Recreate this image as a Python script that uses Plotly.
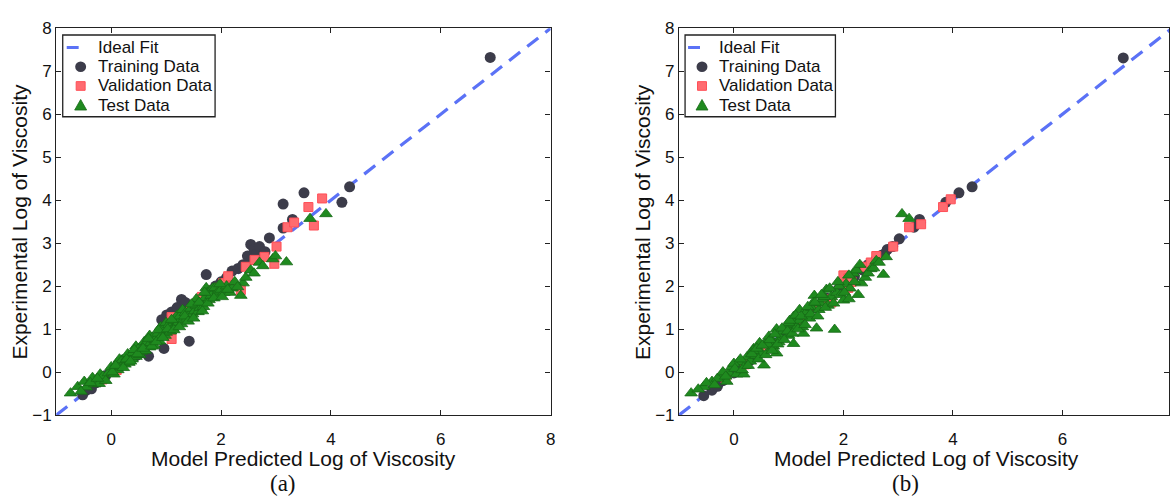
import plotly.graph_objects as go

# ---------------- panel (a) ----------------
a_train_x = [-0.52, -0.45, -0.36, -0.28, -0.10, 0.05, 0.15, 0.22, 0.35, 0.45, 0.55, 0.62, 0.68, 0.75,
             0.85, 0.92, 0.96, 1.00, 1.01, 1.10, 1.10, 1.20, 1.20, 1.28, 1.35, 1.42, 1.50, 1.60, 1.73,
             1.80, 1.90, 2.00, 2.10, 2.20, 2.31, 2.40, 2.48, 2.54, 2.55, 2.60, 2.65, 2.70, 2.70, 2.80,
             2.88, 3.13, 3.13, 3.30, 3.51, 4.20, 4.34, 6.90]
a_train_y = [-0.53, -0.42, -0.39, -0.25, -0.08, 0.02, 0.12, 0.28, 0.30, 0.38, 0.45, 0.58, 0.37, 0.66,
             0.80, 1.22, 0.55, 0.90, 1.33, 1.05, 1.40, 1.18, 1.50, 1.69, 1.62, 0.72, 1.55, 1.62, 2.27,
             1.85, 2.00, 2.10, 2.20, 2.35, 2.41, 2.50, 2.70, 2.97, 2.62, 2.85, 2.75, 2.92, 2.65, 2.80,
             3.12, 3.35, 3.91, 3.55, 4.17, 3.95, 4.31, 7.32]

a_val_x = [-0.16, 0.10, 0.50, 0.75, 1.10, 1.10, 1.30, 1.46, 1.59, 1.65, 1.75, 1.85, 1.98, 2.04,
           2.13, 2.20, 2.36, 2.45, 2.61, 2.79, 2.97, 3.01, 3.21, 3.33, 3.59, 3.69, 3.84]
a_val_y = [-0.17, 0.05, 0.48, 0.72, 1.28, 0.77, 1.25, 1.45, 1.51, 1.75, 1.70, 1.90, 1.96, 2.07,
           2.23, 2.00, 1.91, 2.45, 2.61, 2.68, 2.52, 2.92, 3.37, 3.48, 3.84, 3.41, 4.04]

a_test_x = [-0.74, -0.61, -0.49, -0.45, -0.34, -0.30, -0.22, -0.20, -0.15, -0.10, -0.05, 0.00, 0.05,
            0.10, 0.12, 0.15, 0.18, 0.20, 0.25, 0.30, 0.30, 0.32, 0.38, 0.40, 0.45, 0.45, 0.50, 0.52,
            0.55, 0.60, 0.60, 0.62, 0.65, 0.70, 0.70, 0.72, 0.75, 0.78, 0.80, 0.85, 0.88, 0.90, 0.90,
            0.95, 0.98, 1.00, 1.00, 1.05, 1.08, 1.12, 1.15, 1.18, 1.20, 1.22, 1.25, 1.28, 1.30, 1.32,
            1.35, 1.38, 1.42, 1.45, 1.48, 1.52, 1.55, 1.55, 1.58, 1.62, 1.65, 1.68, 1.71, 1.73, 1.75,
            1.78, 1.80, 1.82, 1.85, 1.89, 1.92, 1.95, 2.00, 2.05, 2.10, 2.16, 2.20, 2.36, 2.40, 2.45,
            2.54, 2.60, 2.70, 2.76, 2.94, 2.99, 3.19, 3.62, 3.91,
            -0.55, -0.38, -0.25, 0.02, 0.08, 0.22, 0.28, 0.35, 0.42, 0.48, 0.58, 0.68, 0.74, 0.82,
            0.86, 0.94, 1.03, 1.10, 1.14, 1.24, 1.34, 1.40, 1.46, 1.50, 1.60, 1.66, 1.70, 1.76, 1.87,
            1.98, 2.02, 2.12, 2.25, 2.30]
a_test_y = [-0.49, -0.34, -0.22, -0.35, -0.13, -0.28, -0.27, -0.05, -0.10, -0.20, -0.02, 0.12, -0.05,
            0.20, 0.05, 0.30, 0.12, 0.28, 0.18, 0.35, 0.42, 0.22, 0.30, 0.45, 0.36, 0.60, 0.55, 0.40,
            0.48, 0.62, 0.70, 0.50, 0.70, 0.58, 0.85, 0.68, 0.80, 0.62, 0.75, 0.90, 0.72, 0.82, 1.05,
            1.00, 0.85, 0.92, 1.15, 1.10, 0.95, 1.02, 1.20, 1.08, 1.32, 1.15, 1.30, 1.12, 1.45, 1.22,
            1.38, 1.25, 1.32, 1.48, 1.35, 1.42, 1.55, 1.70, 1.40, 1.50, 1.62, 1.52, 1.73, 1.96, 1.85,
            1.68, 1.90, 1.78, 1.95, 1.96, 1.80, 1.88, 1.92, 1.85, 2.00, 1.85, 1.95, 1.78, 2.07, 2.20,
            2.37, 2.30, 2.55, 2.47, 2.63, 2.70, 2.56, 3.57, 3.68,
            -0.45, -0.25, -0.15, 0.00, 0.15, 0.10, 0.30, 0.25, 0.52, 0.42, 0.55, 0.78, 0.60, 0.70,
            0.98, 0.80, 1.00, 1.22, 0.98, 1.05, 1.30, 1.18, 1.58, 1.25, 1.62, 1.42, 1.85, 1.60, 1.72,
            2.05, 1.75, 1.92, 2.10, 1.98]

# ---------------- panel (b) ----------------
b_train_x = [-0.55, -0.40, -0.30, -0.20, 0.00, 0.10, 0.30, 0.50, 0.70, 0.90, 1.10, 1.30, 1.50, 1.70,
             1.90, 2.00, 2.20, 2.35, 2.45, 2.50, 2.60, 2.70, 2.75, 2.80, 2.90, 3.02, 3.29, 3.39, 3.87,
             4.11, 4.35, 7.11]
b_train_y = [-0.55, -0.42, -0.33, -0.20, -0.02, 0.08, 0.28, 0.47, 0.68, 0.90, 1.08, 1.30, 1.50, 1.72,
             1.92, 2.05, 2.22, 2.38, 2.50, 2.50, 2.62, 2.72, 2.75, 2.85, 2.92, 3.10, 3.37, 3.55, 3.95,
             4.17, 4.31, 7.31]

b_val_x = [-0.15, 0.20, 0.60, 1.20, 1.50, 1.69, 1.78, 1.96, 2.00, 2.09, 2.09, 2.15, 2.40, 2.50,
           2.60, 2.91, 3.20, 3.42, 3.82, 3.96]
b_val_y = [-0.15, 0.18, 0.58, 1.22, 1.55, 1.69, 1.62, 2.07, 2.25, 2.18, 1.96, 2.10, 2.45, 2.55,
           2.70, 2.92, 3.37, 3.44, 3.84, 4.02]

b_test_x = [-0.78, -0.55, -0.40, -0.25, -0.13, -0.09, -0.04, 0.05, 0.09, 0.18, 0.20, 0.24, 0.30, 0.36,
            0.40, 0.47, 0.50, 0.55, 0.60, 0.64, 0.68, 0.72, 0.78, 0.78, 0.85, 0.90, 0.96, 1.00, 1.05,
            1.09, 1.09, 1.11, 1.15, 1.20, 1.20, 1.27, 1.30, 1.33, 1.38, 1.42, 1.47, 1.51, 1.55, 1.58,
            1.62, 1.69, 1.72, 1.78, 1.84, 1.88, 1.95, 2.00, 2.05, 2.12, 2.18, 2.24, 2.27, 2.33, 2.40,
            2.50, 2.60, 2.73, 2.78, 3.07, 3.20, -0.65, -0.30, 0.00, 0.35, 0.62, 0.82, 1.00, 1.25, 1.45,
            1.65, 1.92, 2.20,
            -0.50, -0.35, -0.20, -0.15, 0.02, 0.12, 0.15, 0.26, 0.33, 0.42, 0.45, 0.52, 0.58, 0.66,
            0.70, 0.75, 0.80, 0.88, 0.92, 0.98, 1.02, 1.07, 1.13, 1.17, 1.23, 1.30, 1.35, 1.40, 1.48,
            1.53, 1.60, 1.67, 1.75, 1.82, 1.90, 2.02, 2.10, 2.30, 2.45, 2.55, 2.65, 2.10]
b_test_y = [-0.49, -0.34, -0.22, -0.13, -0.22, -0.02, 0.12, -0.05, 0.24, -0.05, 0.15, 0.35, 0.25, 0.54,
            0.38, 0.68, 0.45, 0.16, 0.72, 0.83, 0.55, 0.60, 1.00, 0.44, 0.80, 0.95, 1.06, 0.85, 1.10,
            1.29, 0.66, 1.13, 1.05, 1.45, 1.20, 0.90, 1.30, 1.40, 1.25, 1.50, 1.78, 1.02, 1.45, 1.60,
            1.70, 1.92, 1.55, 1.75, 0.99, 1.85, 1.80, 1.67, 2.05, 1.95, 2.30, 2.37, 1.80, 2.07, 2.20,
            2.40, 2.59, 2.27, 2.68, 3.68, 3.57, -0.40, -0.15, 0.20, 0.50, 0.65, 0.70, 1.15, 1.05, 1.62,
            1.75, 2.00, 2.10,
            -0.25, -0.30, 0.00, -0.10, 0.08, 0.30, 0.05, 0.15, 0.42, 0.55, 0.30, 0.62, 0.40, 0.75,
            0.50, 0.88, 0.65, 1.02, 0.75, 0.95, 1.20, 0.90, 1.32, 1.00, 1.30, 1.10, 1.52, 1.35, 1.62,
            1.30, 1.80, 1.50, 1.95, 1.60, 2.10, 1.85, 2.25, 2.50, 2.30, 2.42, 2.55, 1.70]

fit_line = [-1, 8]
legend_labels = ["Ideal Fit", "Training Data", "Validation Data", "Test Data"]

FONT = "Liberation Sans, Arial, sans-serif"
SERIF = "Liberation Serif, Times New Roman, serif"
BLUE = "#5b72f6"
TRAIN = "#3c3c4a"
VAL_FILL = "#ff6b70"
VAL_EDGE = "#ff4f57"
TEST_FILL = "#1f8a1f"
TEST_EDGE = "#176917"
INK = "#111"

W, H = 1174, 503
top_px, bot_px = 20, 422
ydom = [(H - bot_px) / H, (H - top_px) / H]


def px(x):
    return x / W


def py(y):
    return 1 - y / H


fig = go.Figure()

panels = [
    ("x", "y", a_train_x, a_train_y, a_val_x, a_val_y, a_test_x, a_test_y),
    ("x2", "y2", b_train_x, b_train_y, b_val_x, b_val_y, b_test_x, b_test_y),
]

for xa, ya, trx, tr_y, vx, vy, tx, ty in panels:
    fig.add_trace(go.Scatter(x=fit_line, y=fit_line, mode="lines", name=legend_labels[0],
                             xaxis=xa, yaxis=ya, showlegend=False, hoverinfo="skip",
                             line=dict(color=BLUE, width=3.2, dash="14px,9px")))
    fig.add_trace(go.Scatter(x=trx, y=tr_y, mode="markers", name=legend_labels[1],
                             xaxis=xa, yaxis=ya, showlegend=False,
                             marker=dict(symbol="circle", size=11, color=TRAIN,
                                         line=dict(width=0))))
    fig.add_trace(go.Scatter(x=vx, y=vy, mode="markers", name=legend_labels[2],
                             xaxis=xa, yaxis=ya, showlegend=False,
                             marker=dict(symbol="square", size=9, color=VAL_FILL,
                                         line=dict(color=VAL_EDGE, width=1))))
    fig.add_trace(go.Scatter(x=tx, y=ty, mode="markers", name=legend_labels[3],
                             xaxis=xa, yaxis=ya, showlegend=False,
                             marker=dict(symbol="triangle-up", size=11, color=TEST_FILL,
                                         line=dict(color=TEST_EDGE, width=0.8))))

axis_common = dict(showgrid=False, zeroline=False, showline=True, linecolor="#222",
                   linewidth=1.3, mirror="ticks", ticks="inside", ticklen=5, tickwidth=1.2,
                   tickcolor="#222", tickfont=dict(family=FONT, size=17, color=INK))

fig.update_layout(
    width=W, height=H, margin=dict(l=0, r=0, t=0, b=0),
    plot_bgcolor="white", paper_bgcolor="white", showlegend=False,
    xaxis=dict(axis_common, domain=[56.5 / W, 553 / W], range=[-1, 8], dtick=2, anchor="y",
               ticklabelstandoff=8),
    yaxis=dict(axis_common, domain=ydom, range=[-1, 8], dtick=1, anchor="x"),
    xaxis2=dict(axis_common, domain=[682 / W, 1.0], range=[-1, -1 + (W - 682) / 55], dtick=2,
                anchor="y2", ticklabelstandoff=8),
    yaxis2=dict(axis_common, domain=ydom, range=[-1, 8], dtick=1, anchor="x2"),
)

# Boxed key in the top-left corner of each panel
shapes = []
ann = []
for box_l, box_r, sym_x, text_x in [(63, 216, 81, 96), (688, 839, 705, 720)]:
    shapes.append(dict(type="rect", xref="paper", yref="paper", layer="above",
                       x0=px(box_l), x1=px(box_r), y0=py(112), y1=py(27),
                       line=dict(color="#222", width=1.3), fillcolor="white"))
    rows = [40, 60, 80, 100]
    # dash for the fit line
    shapes.append(dict(type="line", xref="paper", yref="paper", layer="above",
                       x0=px(sym_x - 14), x1=px(sym_x - 2), y0=py(rows[0]), y1=py(rows[0]),
                       line=dict(color=BLUE, width=3)))
    # circle
    shapes.append(dict(type="circle", xref="paper", yref="paper", layer="above",
                       x0=px(sym_x - 5.5), x1=px(sym_x + 5.5),
                       y0=py(rows[1] + 5.5), y1=py(rows[1] - 5.5),
                       fillcolor=TRAIN, line=dict(width=0)))
    # square
    shapes.append(dict(type="rect", xref="paper", yref="paper", layer="above",
                       x0=px(sym_x - 4.5), x1=px(sym_x + 4.5),
                       y0=py(rows[2] + 4.5), y1=py(rows[2] - 4.5),
                       fillcolor=VAL_FILL, line=dict(color=VAL_EDGE, width=1)))
    # triangle
    tri = "M {:.5f},{:.5f} L {:.5f},{:.5f} L {:.5f},{:.5f} Z".format(
        px(sym_x - 6), py(rows[3] + 5), px(sym_x + 6), py(rows[3] + 5),
        px(sym_x), py(rows[3] - 6))
    shapes.append(dict(type="path", xref="paper", yref="paper", layer="above", path=tri,
                       fillcolor=TEST_FILL, line=dict(color=TEST_EDGE, width=0.8)))
    for r, lab in zip(rows, legend_labels):
        ann.append(dict(x=px(text_x), y=py(r), xref="paper", yref="paper", text=lab,
                        showarrow=False, xanchor="left", yanchor="middle",
                        font=dict(family=FONT, size=17, color=INK)))

xt = "Model Predicted Log of Viscosity"
yt = "Experimental Log of Viscosity"
for cx, yx, lab in [(305, 20, "(a)"), (930, 645, "(b)")]:
    ann.append(dict(x=px(cx), y=py(467), xref="paper", yref="paper", text=xt,
                    showarrow=False, xanchor="center", yanchor="middle",
                    font=dict(family=FONT, size=21, color=INK)))
    ann.append(dict(x=px(yx), y=py(221), xref="paper", yref="paper", text=yt,
                    showarrow=False, textangle=-90, xanchor="center", yanchor="middle",
                    font=dict(family=FONT, size=21, color=INK)))
    ann.append(dict(x=px(cx - 21), y=py(493), xref="paper", yref="paper", text=lab,
                    showarrow=False, xanchor="center", yanchor="middle",
                    font=dict(family=SERIF, size=23, color=INK)))

fig.update_layout(shapes=shapes, annotations=ann)

fig.write_html("out.html")
